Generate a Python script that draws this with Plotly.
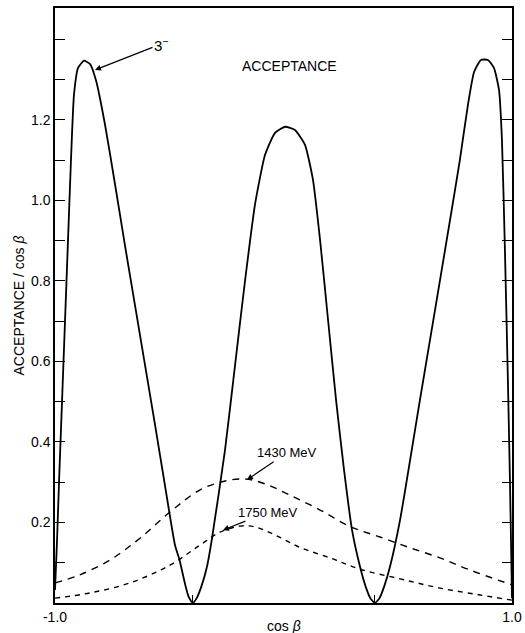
import plotly.graph_objects as go

# Solid curve (3^-)
cos_solid = [-1.000, -0.991, -0.982, -0.969, -0.956, -0.943, -0.930, -0.917, -0.899, -0.873,
             -0.847, -0.821, -0.781, -0.737, -0.694, -0.650, -0.606, -0.562, -0.519, -0.475,
             -0.455, -0.430, -0.415, -0.397, -0.380, -0.360, -0.335, -0.313, -0.256, -0.212,
             -0.168, -0.125, -0.081, -0.037, 0.007, 0.050, 0.094, 0.129, 0.160, 0.195,
             0.230, 0.265, 0.300, 0.335, 0.360, 0.380, 0.400, 0.420, 0.440, 0.466,
             0.510, 0.554, 0.597, 0.641, 0.685, 0.729, 0.772, 0.807, 0.834, 0.864,
             0.895, 0.921, 0.943, 0.956, 0.969, 0.982, 0.991, 1.000]
acc_solid = [0.032, 0.157, 0.306, 0.504, 0.703, 0.902, 1.101, 1.262, 1.329, 1.347,
             1.339, 1.299, 1.188, 1.039, 0.889, 0.740, 0.591, 0.442, 0.293, 0.144,
             0.107, 0.045, 0.015, 0.000, 0.012, 0.040, 0.090, 0.160, 0.380, 0.591,
             0.802, 0.989, 1.113, 1.168, 1.183, 1.175, 1.138, 1.051, 0.902, 0.703,
             0.504, 0.330, 0.181, 0.090, 0.040, 0.012, 0.000, 0.012, 0.040, 0.090,
             0.206, 0.355, 0.504, 0.653, 0.802, 0.952, 1.101, 1.237, 1.319, 1.349,
             1.349, 1.329, 1.275, 1.150, 0.877, 0.554, 0.306, 0.012]

# 1430 MeV dashed
cos_1430 = [-1.0, -0.891, -0.759, -0.628, -0.497, -0.365, -0.256, -0.168, -0.081, 0.028,
            0.160, 0.291, 0.422, 0.554, 0.685, 0.816, 1.0]
acc_1430 = [0.050, 0.070, 0.107, 0.161, 0.226, 0.281, 0.303, 0.308, 0.296, 0.268,
            0.231, 0.190, 0.164, 0.137, 0.112, 0.082, 0.045]

# 1750 MeV dashed
cos_1750 = [-1.0, -0.847, -0.672, -0.497, -0.365, -0.278, -0.190, -0.125, -0.037, 0.072,
            0.204, 0.335, 0.510, 0.685, 0.860, 1.0]
acc_1750 = [0.012, 0.025, 0.050, 0.094, 0.144, 0.176, 0.191, 0.189, 0.169, 0.138,
            0.112, 0.084, 0.060, 0.037, 0.020, 0.007]

y_tickvals = [0.1, 0.2, 0.3, 0.4, 0.5, 0.6, 0.7, 0.8, 0.9, 1.0, 1.1, 1.2, 1.3, 1.4]
y_ticktext = ["", "0.2", "", "0.4", "", "0.6", "", "0.8", "", "1.0", "", "1.2", "", ""]
x_tickvals = [-1.0, -0.397, 0.400, 1.0]
x_ticktext = ["-1.0", "", "", "1.0"]

FONT = "Liberation Sans, Arial, sans-serif"

fig = go.Figure()
fig.add_trace(go.Scatter(x=cos_solid, y=acc_solid, mode="lines",
                         line=dict(color="black", width=1.8, shape="spline", smoothing=0.5),
                         showlegend=False, hoverinfo="skip"))
fig.add_trace(go.Scatter(x=cos_1430, y=acc_1430, mode="lines",
                         line=dict(color="black", width=1.4, dash="7px,6px", shape="spline"),
                         showlegend=False, hoverinfo="skip"))
fig.add_trace(go.Scatter(x=cos_1750, y=acc_1750, mode="lines",
                         line=dict(color="black", width=1.4, dash="5px,5px", shape="spline"),
                         showlegend=False, hoverinfo="skip"))

fig.update_layout(
    width=525, height=633,
    margin=dict(l=55, r=13, t=8, b=30),
    paper_bgcolor="white", plot_bgcolor="white",
    font=dict(family=FONT, color="black", size=14),
    xaxis=dict(range=[-1.0, 1.0], tickvals=x_tickvals, ticktext=x_ticktext,
               ticks="inside", ticklen=8, tickwidth=1.2, tickcolor="black",
               showline=True, linecolor="black", linewidth=1.5, mirror=True,
               showgrid=False, zeroline=False, automargin=False,
               tickfont=dict(size=14, family=FONT)),
    yaxis=dict(range=[0, 1.478], tickvals=y_tickvals, ticktext=y_ticktext,
               ticks="inside", ticklen=10, tickwidth=1.2, tickcolor="black",
               showline=True, linecolor="black", linewidth=1.5, mirror="ticks",
               showgrid=False, zeroline=False, automargin=False,
               tickfont=dict(size=14, family=FONT)),
)

fig.add_annotation(text="ACCEPTANCE / cos <i>β</i>", xref="paper", yref="paper",
                   x=0, y=0.5, xshift=-47, textangle=-90, showarrow=False,
                   font=dict(size=14, family=FONT))
fig.add_annotation(text="cos <i>β</i>", xref="paper", yref="paper",
                   x=0.5, y=0, yshift=-13, yanchor="top", showarrow=False,
                   font=dict(size=14, family=FONT))
fig.add_annotation(text="ACCEPTANCE", xref="paper", yref="y",
                   x=0.514, y=1.334, showarrow=False,
                   font=dict(size=14, family=FONT))
fig.add_annotation(text="3<sup>−</sup>", x=-0.825, y=1.324, ax=66, ay=-26,
                   showarrow=True, arrowhead=2, arrowsize=1, arrowwidth=1.2, arrowcolor="black",
                   font=dict(size=15, family=FONT))
fig.add_annotation(text="1430 MeV", x=-0.160, y=0.306, ax=40, ay=-27,
                   showarrow=True, arrowhead=2, arrowsize=1, arrowwidth=1.2, arrowcolor="black",
                   font=dict(size=13, family=FONT))
fig.add_annotation(text="1750 MeV", x=-0.265, y=0.181, ax=45, ay=-18,
                   showarrow=True, arrowhead=2, arrowsize=1, arrowwidth=1.2, arrowcolor="black",
                   font=dict(size=13, family=FONT))

fig.write_html("out.html")
